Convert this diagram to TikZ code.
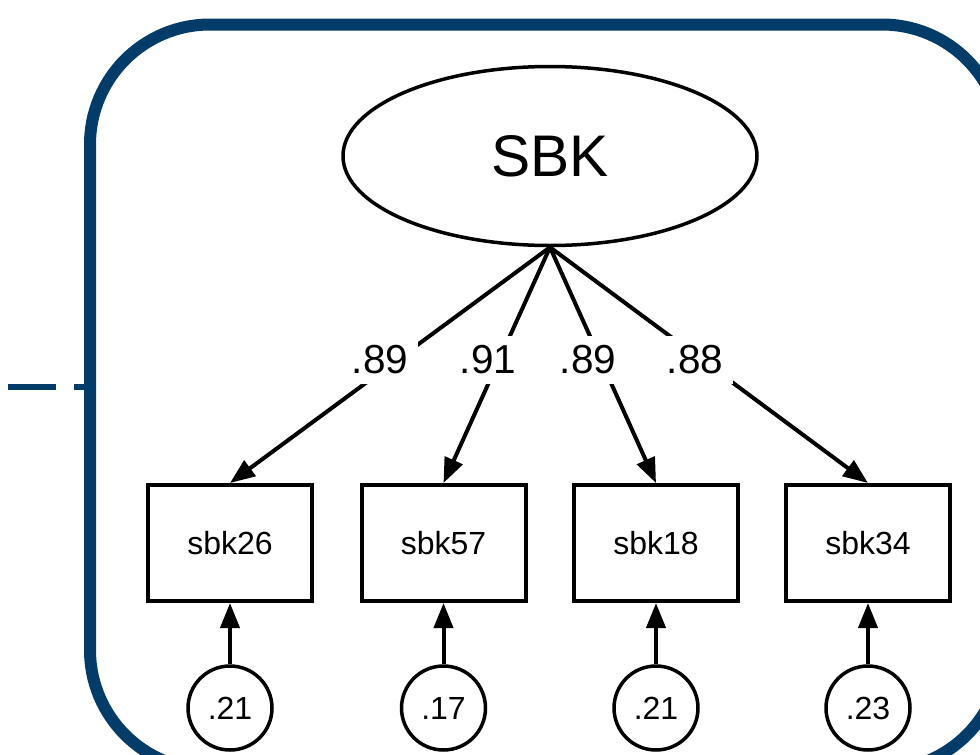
\documentclass[tikz,border=0pt]{standalone}
\usepackage{fontspec}
\setmainfont{Liberation Sans}
\usetikzlibrary{shapes.geometric,arrows.meta}
\definecolor{frameblue}{RGB}{3,60,105}
\begin{document}
\begin{tikzpicture}[x=1pt,y=-1pt,
  latent/.style={ellipse,draw,line width=3.5pt,minimum width=414pt,minimum height=179pt,inner sep=0pt,font=\fontsize{58.7}{70}\selectfont},
  observed/.style={rectangle,draw,line width=4pt,minimum width=164pt,minimum height=116pt,inner sep=0pt,font=\fontsize{32}{38}\selectfont},
  errnode/.style={circle,draw,line width=3.5pt,minimum size=84pt,inner sep=0pt,font=\fontsize{32}{38}\selectfont},
  loadarrow/.style={line width=4pt,-{Triangle[length=25pt,width=19pt]}},
  coef/.style={fill=white,inner xsep=10pt,inner ysep=10pt,font=\fontsize{40.5}{48}\selectfont},
  frameline/.style={draw=frameblue,line width=12pt}
]
\useasboundingbox (0,0) rectangle (980,755);
\clip (0,0) rectangle (980,755);
% dashed stub and frame
\draw[frameline,line width=6pt,dash pattern=on 48pt off 18pt] (8,387) -- (96,387);
\draw[frameline,rounded corners=120pt] (90,24.5) rectangle (1002,770);
% nodes
\node[latent] (sbk) at (550,156) {SBK};
\node[observed] (b1) at (230,543) {sbk26};
\node[observed] (b2) at (443.5,543) {sbk57};
\node[observed] (b3) at (656,543) {sbk18};
\node[observed] (b4) at (868,543) {sbk34};
\node[errnode] (e1) at (230,708) {.21};
\node[errnode] (e2) at (443.5,708) {.17};
\node[errnode] (e3) at (656,708) {.21};
\node[errnode] (e4) at (868,708) {.23};
% loadings
\draw[loadarrow] (sbk.south) -- (b1.north);
\draw[loadarrow] (sbk.south) -- (b2.north);
\draw[loadarrow] (sbk.south) -- (b3.north);
\draw[loadarrow] (sbk.south) -- (b4.north);
\node[coef] (l1) at (380,360) {.89};
\node[coef] (l2) at (488,360) {.91};
\node[coef] (l3) at (588,360) {.89};
\node[coef] (l4) at (695,360) {.88};
% error arrows
\draw[loadarrow] (e1.north) -- (b1.south);
\draw[loadarrow] (e2.north) -- (b2.south);
\draw[loadarrow] (e3.north) -- (b3.south);
\draw[loadarrow] (e4.north) -- (b4.south);
\end{tikzpicture}
\end{document}
